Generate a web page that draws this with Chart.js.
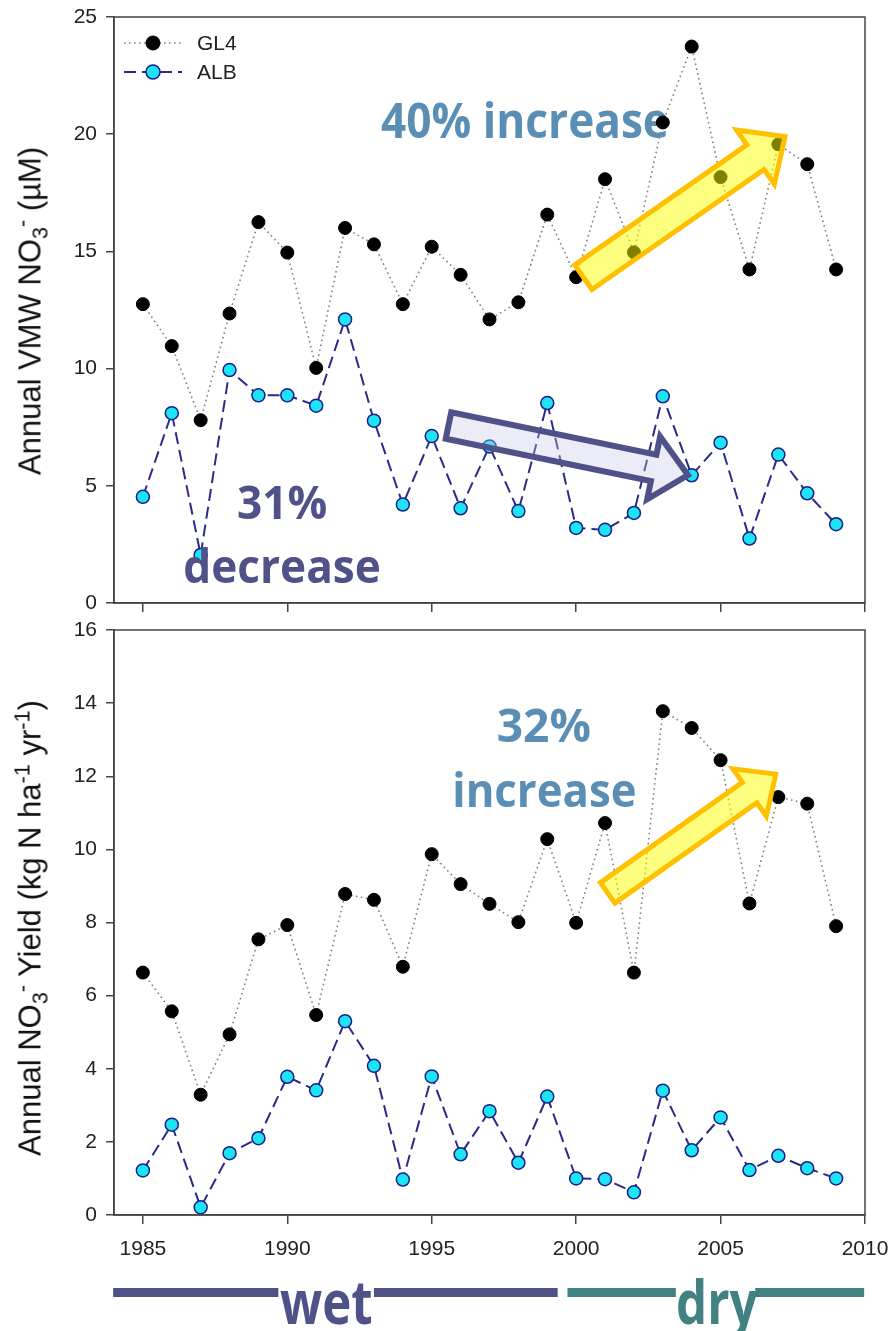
<!DOCTYPE html>
<html>
<head>
<meta charset="utf-8">
<script src="https://cdn.jsdelivr.net/npm/chart.js@4.4.1/dist/chart.umd.min.js"></script>
<style>
  html, body { margin: 0; padding: 0; background: #fff; }
  #page { position: relative; width: 896px; height: 1331px; overflow: hidden; }
  canvas { position: absolute; left: 0; }
  .ytitle { position: absolute; width: 0; height: 0; }
  .ytitle span {
    position: absolute; left: 0; top: 0; white-space: nowrap; line-height: 1;
    transform: translate(-50%, -50%) rotate(-90deg);
    font-family: "Liberation Sans", Arial, sans-serif; font-size: 31px; color: #111;
  }
  .ytitle sub, .ytitle sup { font-size: 0.7em; line-height: 0; }
</style>
</head>
<body>
<div id="page">
  <canvas id="concChart" width="896" height="620" style="top:0"></canvas>
  <canvas id="yieldChart" width="896" height="721" style="top:610px"></canvas>
  <div class="ytitle" style="left:30px; top:311px"><span>Annual VMW NO<sub>3</sub><sup>-</sup> (µM)</span></div>
  <div class="ytitle" style="left:30px; top:928px"><span>Annual NO<sub>3</sub><sup>-</sup> Yield (kg N ha<sup>-1</sup> yr<sup>-1</sup>)</span></div>
</div>
<script>
// datos
const years = [1985, 1986, 1987, 1988, 1989, 1990, 1991, 1992, 1993, 1994, 1995, 1996, 1997,
               1998, 1999, 2000, 2001, 2002, 2003, 2004, 2005, 2006, 2007, 2008, 2009];

const gl4Conc = [12.75, 10.96, 7.8, 12.35, 16.25, 14.95, 10.03, 16.0, 15.3, 12.75, 15.2, 14.0, 12.1,
                 12.83, 16.57, 13.9, 18.08, 14.96, 20.5, 23.74, 18.17, 14.23, 19.57, 18.72, 14.23];
const albConc = [4.53, 8.1, 2.05, 9.94, 8.86, 8.86, 8.42, 12.1, 7.78, 4.2, 7.12, 4.04, 6.68,
                 3.92, 8.53, 3.2, 3.12, 3.84, 8.82, 5.45, 6.84, 2.75, 6.33, 4.68, 3.36];

const gl4Yield = [6.63, 5.57, 3.29, 4.94, 7.54, 7.93, 5.47, 8.78, 8.62, 6.79, 9.87, 9.05, 8.51,
                  8.01, 10.28, 7.99, 10.72, 6.63, 13.78, 13.32, 12.44, 8.52, 11.43, 11.25, 7.9];
const albYield = [1.22, 2.47, 0.21, 1.69, 2.1, 3.78, 3.41, 5.3, 4.08, 0.97, 3.79, 1.66, 2.84,
                  1.43, 3.24, 1.0, 0.98, 0.62, 3.4, 1.77, 2.67, 1.23, 1.62, 1.28, 1.0];

const xTicks = [1985, 1990, 1995, 2000, 2005, 2010];
const concTicks = [0, 5, 10, 15, 20, 25];
const yieldTicks = [0, 2, 4, 6, 8, 10, 12, 14, 16];

const seriesNames = ['GL4', 'ALB'];

// anotaciones (en coordenadas de datos)
const concNotes = [
    { text: '40% increase', x: 1998.23, y: 19.83, size: 48, sx: 0.92, color: '#5a8eb4', behind: true },
    { text: '31%', x: 1989.82, y: 3.57, size: 46, sx: 0.96, color: '#4f5188' },
    { text: 'decrease', x: 1989.82, y: 0.85, size: 46, sx: 0.96, color: '#4f5188' }
];
const yieldNotes = [
    { text: '32%', x: 1998.88, y: 12.95, size: 47, sx: 0.98, color: '#5a8eb4' },
    { text: 'increase', x: 1998.9, y: 11.15, size: 47, sx: 0.93, color: '#5a8eb4' }
];
const concArrows = [
    { from: [2000.25, 13.9], to: [2007.23, 19.9], shaft: 30, head: 66, headLen: 36, fill: 'rgba(255,255,0,0.5)', stroke: '#ffc000', lw: 5 },
    { from: [1995.58, 7.57], to: [2003.87, 5.46], shaft: 27, head: 64, headLen: 35, fill: 'rgba(200,200,228,0.35)', stroke: '#4f5188', lw: 6 }
];
const yieldArrows = [
    { from: [2001.09, 8.81], to: [2006.91, 12.06], shaft: 25, head: 58, headLen: 32, fill: 'rgba(255,255,0,0.5)', stroke: '#ffc000', lw: 5 }
];

// periodos humedo / seco bajo el eje
const periods = [
    { text: 'wet', color: '#4f5189', segs: [[1983.97, 1989.69], [1993.0, 1999.36]], mid: 1991.35 },
    { text: 'dry', color: '#418181', segs: [[1999.7, 2003.45], [2006.2, 2009.97]], mid: 2004.87 }
];

const tickFont = { family: '"Liberation Sans", Arial, sans-serif', size: 21 };

function toPoints(vals) {
    return years.map((yr, i) => ({ x: yr, y: vals[i] }));
}

function makeDatasets(gl4, alb) {
    return [
        {
            label: seriesNames[0], data: toPoints(gl4),
            borderColor: '#808080', borderWidth: 1.6, borderDash: [1.6, 3.4],
            pointRadius: 6.5, pointBackgroundColor: '#000', pointBorderColor: '#000', pointBorderWidth: 1,
            tension: 0
        },
        {
            label: seriesNames[1], data: toPoints(alb),
            borderColor: '#2a2a8a', borderWidth: 2, borderDash: [12, 6],
            pointRadius: 6.5, pointBackgroundColor: '#1ce4f2', pointBorderColor: '#1c1c8a', pointBorderWidth: 1.5,
            tension: 0
        }
    ];
}

function drawArrow(ctx, chart, a) {
    const xs = chart.scales.x, ys = chart.scales.y;
    const x0 = xs.getPixelForValue(a.from[0]), y0 = ys.getPixelForValue(a.from[1]);
    const x1 = xs.getPixelForValue(a.to[0]), y1 = ys.getPixelForValue(a.to[1]);
    const len = Math.hypot(x1 - x0, y1 - y0);
    const ux = (x1 - x0) / len, uy = (y1 - y0) / len;
    const nx = -uy, ny = ux;
    const bx = x1 - ux * a.headLen, by = y1 - uy * a.headLen;
    const s = a.shaft / 2, h = a.head / 2;
    ctx.save();
    ctx.beginPath();
    ctx.moveTo(x0 + nx * s, y0 + ny * s);
    ctx.lineTo(bx + nx * s, by + ny * s);
    ctx.lineTo(bx + nx * h, by + ny * h);
    ctx.lineTo(x1, y1);
    ctx.lineTo(bx - nx * h, by - ny * h);
    ctx.lineTo(bx - nx * s, by - ny * s);
    ctx.lineTo(x0 - nx * s, y0 - ny * s);
    ctx.closePath();
    ctx.fillStyle = a.fill;
    ctx.fill();
    ctx.lineJoin = 'miter';
    ctx.lineWidth = a.lw;
    ctx.strokeStyle = a.stroke;
    ctx.stroke();
    ctx.restore();
}

function drawText(ctx, x, y, t) {
    ctx.save();
    ctx.translate(x, y);
    ctx.scale(t.sx, 1);
    ctx.font = 'bold ' + t.size + 'px "Open Sans", sans-serif';
    ctx.textAlign = 'center';
    ctx.textBaseline = 'alphabetic';
    ctx.fillStyle = t.color;
    ctx.fillText(t.text, 0, 0);
    ctx.restore();
}

function drawNote(ctx, chart, t) {
    drawText(ctx, chart.scales.x.getPixelForValue(t.x), chart.scales.y.getPixelForValue(t.y), t);
}

// marco, anotaciones y leyenda
function makePlugin(notes, arrows, withLegend, withPeriods) {
    return {
        id: 'decor',
        beforeDatasetsDraw(chart) {
            const ctx = chart.ctx;
            notes.filter(n => n.behind).forEach(n => drawNote(ctx, chart, n));
        },
        afterDatasetsDraw(chart) {
            const ctx = chart.ctx;
            notes.filter(n => !n.behind).forEach(n => drawNote(ctx, chart, n));
            arrows.forEach(a => drawArrow(ctx, chart, a));
        },
        afterDraw(chart) {
            const ctx = chart.ctx;
            const area = chart.chartArea;
            ctx.save();
            ctx.strokeStyle = '#444';
            ctx.lineWidth = 1.5;
            ctx.strokeRect(area.left, area.top, area.right - area.left, area.bottom - area.top);
            ctx.restore();

            if (withLegend) {
                chart.data.datasets.forEach((ds, i) => {
                    const y = area.top + 26 + i * 29;
                    const lx = area.left + 10;
                    ctx.save();
                    ctx.strokeStyle = ds.borderColor;
                    ctx.lineWidth = ds.borderWidth;
                    ctx.setLineDash(ds.borderDash);
                    ctx.beginPath();
                    ctx.moveTo(lx, y);
                    ctx.lineTo(lx + 58, y);
                    ctx.stroke();
                    ctx.setLineDash([]);
                    ctx.beginPath();
                    ctx.arc(lx + 29, y, 7, 0, Math.PI * 2);
                    ctx.fillStyle = ds.pointBackgroundColor;
                    ctx.fill();
                    ctx.lineWidth = ds.pointBorderWidth;
                    ctx.strokeStyle = ds.pointBorderColor;
                    ctx.stroke();
                    ctx.font = '21px "Liberation Sans", Arial, sans-serif';
                    ctx.fillStyle = '#222';
                    ctx.textBaseline = 'middle';
                    ctx.textAlign = 'left';
                    ctx.fillText(ds.label, lx + 73, y + 1);
                    ctx.restore();
                });
            }

            if (withPeriods) {
                const xs = chart.scales.x;
                const barY = area.bottom + 77.5;
                periods.forEach(p => {
                    ctx.save();
                    ctx.strokeStyle = p.color;
                    ctx.lineWidth = 9;
                    p.segs.forEach(s => {
                        ctx.beginPath();
                        ctx.moveTo(xs.getPixelForValue(s[0]), barY);
                        ctx.lineTo(xs.getPixelForValue(s[1]), barY);
                        ctx.stroke();
                    });
                    ctx.restore();
                    drawText(ctx, xs.getPixelForValue(p.mid), area.bottom + 109,
                        { text: p.text, size: 60, sx: 0.82, color: p.color });
                });
            }
        }
    };
}

function makeOptions(yTicks, showXLabels, xHeight, padTop) {
    return {
        responsive: false,
        animation: false,
        devicePixelRatio: 1,
        layout: { padding: { top: padTop, right: 31, left: 0, bottom: 0 } },
        plugins: { legend: { display: false }, tooltip: { enabled: false } },
        scales: {
            x: {
                type: 'linear', min: 1984, max: 2010,
                afterBuildTicks: (scale) => { scale.ticks = xTicks.map(v => ({ value: v })); },
                afterFit: (scale) => {
                    scale.height = xHeight;
                    scale.paddingLeft = 0;
                    scale.paddingRight = 0;
                },
                ticks: {
                    display: showXLabels, font: tickFont, color: '#222', padding: 13,
                    maxRotation: 0, autoSkip: false,
                    callback: (v) => String(v)
                },
                grid: { drawOnChartArea: false, drawTicks: true, tickLength: 9, color: '#444', lineWidth: 1.5 },
                border: { display: true, color: '#444', width: 1.5 }
            },
            y: {
                min: yTicks[0], max: yTicks[yTicks.length - 1],
                afterBuildTicks: (scale) => { scale.ticks = yTicks.map(v => ({ value: v })); },
                afterFit: (scale) => {
                    scale.width = 114;
                    scale.paddingTop = 0;
                    scale.paddingBottom = 0;
                },
                ticks: { font: tickFont, color: '#222', padding: 9, callback: (v) => String(v) },
                grid: { drawOnChartArea: false, drawTicks: true, tickLength: 8, color: '#444', lineWidth: 1.5 },
                border: { display: true, color: '#444', width: 1.5 }
            }
        }
    };
}

new Chart(document.getElementById('concChart'), {
    type: 'line',
    data: { datasets: makeDatasets(gl4Conc, albConc) },
    options: makeOptions(concTicks, false, 17, 17),
    plugins: [makePlugin(concNotes, concArrows, true, false)]
});

new Chart(document.getElementById('yieldChart'), {
    type: 'line',
    data: { datasets: makeDatasets(gl4Yield, albYield) },
    options: makeOptions(yieldTicks, true, 116, 20),
    plugins: [makePlugin(yieldNotes, yieldArrows, false, true)]
});
</script>
</body>
</html>
